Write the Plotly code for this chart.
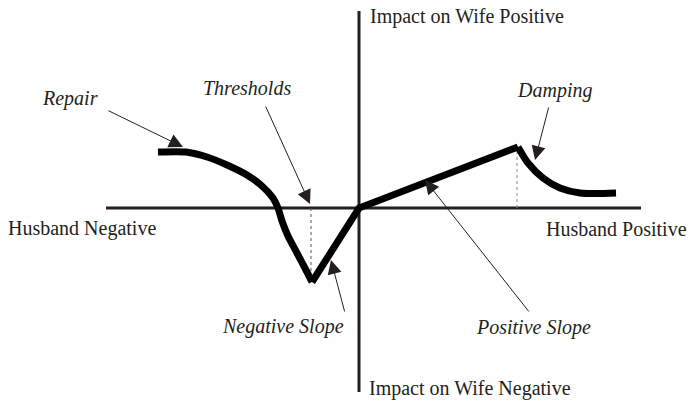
import plotly.graph_objects as go

# origin of the diagram is where the two axes cross
# repair / threshold branch (husband negative side)
repair_x = [-201, -173, -152, -132, -112, -97, -86, -81, -77, -71, -62, -52, -47]
repair_y = [56, 56, 51, 43, 33, 22, 10, 0, -13, -28, -45, -64, -74]
# straight slopes: bottom of threshold -> origin -> peak
slope_x = [-47, 0, 159]
slope_y = [-74, 0, 61]
# damping branch
damp_x = [159, 169, 184, 201, 221, 257]
damp_y = [61, 45, 30, 20, 15, 15]

threshold_x = [-48, -48]
threshold_y = [0, -66]
damping_x = [158, 158]
damping_y = [0, 58]

axis_x = [-253, 282]
axis_y = [197, -184]

labels = ["Repair", "Thresholds", "Damping", "Negative Slope", "Positive Slope"]
label_x = [-289, -112, 195, -76, 174]
label_y = [110, 120, 118, -118, -119]
tip_x = [-176, -49, 176, -28, 66]
tip_y = [61, 4, 48, -52, 28]
tail_x = [-252, -94, 190, -14, 171]
tail_y = [98, 103, 102, -105, -105]

ink = "#231f20"
serif = "Liberation Serif, Times New Roman, serif"

fig = go.Figure()
fig.add_trace(go.Scatter(x=axis_x, y=[0, 0], mode="lines",
                         line=dict(color=ink, width=3)))
fig.add_trace(go.Scatter(x=[0, 0], y=axis_y, mode="lines",
                         line=dict(color=ink, width=3)))
fig.add_trace(go.Scatter(x=threshold_x, y=threshold_y, mode="lines",
                         line=dict(color="#555555", width=1, dash="dot")))
fig.add_trace(go.Scatter(x=damping_x, y=damping_y, mode="lines",
                         line=dict(color="#888888", width=1, dash="dot")))
fig.add_trace(go.Scatter(x=repair_x, y=repair_y, mode="lines",
                         line=dict(color="black", width=7, shape="spline", smoothing=0.6)))
fig.add_trace(go.Scatter(x=slope_x, y=slope_y, mode="lines",
                         line=dict(color="black", width=7)))
fig.add_trace(go.Scatter(x=damp_x, y=damp_y, mode="lines",
                         line=dict(color="black", width=7, shape="spline", smoothing=0.8)))

for txt, lx, ly, hx, hy, tx, ty in zip(labels, label_x, label_y, tip_x, tip_y, tail_x, tail_y):
    fig.add_annotation(x=lx, y=ly, text="<i>" + txt + "</i>", showarrow=False,
                       font=dict(family=serif, size=20, color=ink))
    fig.add_annotation(x=hx, y=hy, ax=tx, ay=ty, xref="x", yref="y",
                       axref="x", ayref="y", text="", showarrow=True,
                       arrowhead=2, arrowsize=2.8, arrowwidth=1,
                       arrowcolor=ink)

fig.add_annotation(x=-277, y=-20, text="Husband Negative", showarrow=False,
                   font=dict(family=serif, size=20, color=ink))
fig.add_annotation(x=257, y=-21, text="Husband Positive", showarrow=False,
                   font=dict(family=serif, size=20, color=ink))
fig.add_annotation(x=9, y=192, text="Impact on Wife Positive", showarrow=False,
                   xanchor="left", font=dict(family=serif, size=20, color=ink))
fig.add_annotation(x=8, y=-180, text="Impact on Wife Negative", showarrow=False,
                   xanchor="left", font=dict(family=serif, size=20, color=ink))

fig.update_layout(width=689, height=405, margin=dict(l=0, r=0, t=0, b=0),
                  paper_bgcolor="white", plot_bgcolor="white", showlegend=False)
fig.update_xaxes(range=[-359, 330], visible=False)
fig.update_yaxes(range=[-197, 208], visible=False)
fig.write_html("out.html", config={"displayModeBar": False},
               post_script="document.body.style.margin='0';")
